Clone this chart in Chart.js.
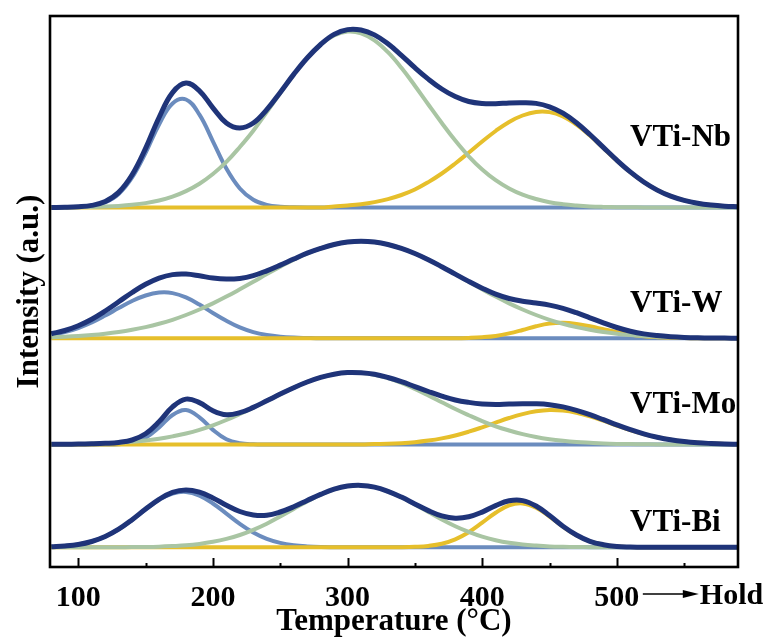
<!DOCTYPE html>
<html>
<head>
<meta charset="utf-8">
<script src="https://cdn.jsdelivr.net/npm/chart.js@4.4.1/dist/chart.umd.min.js"></script>
<style>
  html, body { margin: 0; padding: 0; background: #fff; }
  #wrap { width: 769px; height: 642px; }
</style>
</head>
<body>
<div id="wrap"><canvas id="tpd" width="769" height="642"></canvas></div>
<script>
// temperature grid (°C)
const temps = [80, 90, 100, 110, 120, 130, 140, 150, 160, 170, 180, 190, 200, 210, 220, 230, 240, 250, 260, 270,
  280, 290, 300, 310, 320, 330, 340, 350, 360, 370, 380, 390, 400, 410, 420, 430, 440, 450, 460, 470,
  480, 490, 500, 510, 520, 530, 540, 550, 560, 570, 580, 590];

const xTickValues = [100, 150, 200, 250, 300, 350, 400, 450, 500, 550];
const xTickLabels = ['100', '', '200', '', '300', '', '400', '', '500', ''];

const samples = ['VTi-Nb', 'VTi-W', 'VTi-Mo', 'VTi-Bi'];
// vertical shift of each trace (a.u.)
const panelOffsets = [359.5, 228.7, 122.5, 19.7];

// fitted peaks: low T (blue), mid T (green), high T (yellow)
const nbLow = [0, 0.1, 0.4, 1.6, 5.1, 13.5, 30, 54.7, 83, 104, 108, 92.9, 66.2, 38.9, 19, 7.7, 2.6, 0.7, 0.2, 0,
  0, 0, 0, 0, 0, 0, 0, 0, 0, 0, 0, 0, 0, 0, 0, 0, 0, 0, 0, 0,
  0, 0, 0, 0, 0, 0, 0, 0, 0, 0, 0, 0];
const nbMid = [0.1, 0.1, 0.3, 0.5, 0.9, 1.6, 2.7, 4.4, 7, 10.9, 16.4, 23.8, 33.5, 45.6, 60.5, 76.8, 95.3, 114.4, 132.9, 149.5,
  163, 172, 175.9, 174.2, 167.2, 155.3, 139.7, 121.8, 103, 84.5, 66.9, 51.2, 38, 27.3, 19, 12.8, 8.5, 5.3, 3.3, 2,
  1.1, 0.6, 0.3, 0.2, 0.1, 0, 0, 0, 0, 0, 0, 0];
const nbHigh = [0, 0, 0, 0, 0, 0, 0, 0, 0, 0, 0, 0, 0, 0, 0, 0, 0, 0, 0, 0,
  0, 1.1, 2, 3.3, 5.4, 8.4, 12.5, 18, 25.4, 34, 44, 54.8, 66, 76.5, 85.6, 92, 95.6, 95.4, 91, 82.8,
  71.9, 59.5, 47, 35.4, 25.4, 17.4, 11.3, 7.1, 4.2, 2.4, 1.3, 0.7];

const wLow = [3.5, 6.2, 10.3, 15.8, 22.7, 30.2, 37.3, 42.8, 45.7, 45.2, 40.9, 33.7, 25.3, 17.5, 10.9, 6.2, 3.3, 1.6, 0.7, 0.3,
  0, 0, 0, 0, 0, 0, 0, 0, 0, 0, 0, 0, 0, 0, 0, 0, 0, 0, 0, 0,
  0, 0, 0, 0, 0, 0, 0, 0, 0, 0, 0, 0];
const wMid = [1.1, 1.6, 2.3, 3.3, 4.6, 6.3, 8.5, 11.2, 14.5, 18.5, 23.3, 28.8, 34.9, 41.7, 49, 56.5, 64.2, 71.6, 78.6, 84.8,
  89.9, 93.8, 96.2, 97, 96.2, 93.8, 89.9, 84.8, 78.6, 71.6, 64.2, 56.5, 49, 41.7, 34.9, 28.8, 23.3, 18.5, 14.5, 11.2,
  8.5, 6.3, 4.6, 3.3, 2.3, 1.6, 1.1, 0.7, 0.5, 0.3, 0.2, 0.1];
const wHigh = [0, 0, 0, 0, 0, 0, 0, 0, 0, 0, 0, 0, 0, 0, 0, 0, 0, 0, 0, 0,
  0, 0, 0, 0, 0, 0, 0, 0, 0, 0, 0, 0.4, 1.1, 2.4, 4.9, 8.3, 12, 14.7, 15.5, 14.4,
  12, 9.1, 6.2, 3.8, 2.1, 1.1, 0.5, 0.2, 0, 0, 0, 0];

const moLow = [0, 0, 0, 0, 0, 0.3, 1.8, 6.7, 17, 29.5, 34.4, 27.2, 14.6, 5.2, 1.3, 0.2, 0, 0, 0, 0,
  0, 0, 0, 0, 0, 0, 0, 0, 0, 0, 0, 0, 0, 0, 0, 0, 0, 0, 0, 0,
  0, 0, 0, 0, 0, 0, 0, 0, 0, 0, 0, 0];
const moMid = [0.2, 0.3, 0.4, 0.7, 1.2, 1.8, 2.7, 4, 5.7, 8.1, 11, 14.7, 19.2, 24.5, 30.5, 36.9, 43.7, 50.4, 56.8, 62.5,
  67.1, 70.3, 71.9, 71.7, 69.8, 66.3, 61.5, 55.6, 49.1, 42.3, 35.5, 29.3, 23.4, 18.2, 14, 10.4, 7.5, 5.3, 3.7, 2.5,
  1.7, 1, 0.6, 0.4, 0.2, 0.1, 0, 0, 0, 0, 0, 0];
const moHigh = [0, 0, 0, 0, 0, 0, 0, 0, 0, 0, 0, 0, 0, 0, 0, 0, 0, 0, 0, 0,
  0, 0, 0, 0, 0.4, 0.7, 1.3, 2.3, 3.9, 6.1, 9, 12.8, 17.2, 21.9, 26.5, 30.4, 33.2, 34.5, 33.9, 31.7,
  28.2, 23.8, 19, 14.4, 10.4, 7.2, 4.7, 2.9, 1.7, 1, 0.5, 0.3];

const biLow = [0.5, 1.3, 2.8, 5.8, 10.8, 18, 27.4, 37.9, 47.4, 53.8, 55.4, 51.7, 43.8, 33.7, 23.5, 14.8, 8.4, 4.4, 2.1, 0.9,
  0.3, 0.1, 0, 0, 0, 0, 0, 0, 0, 0, 0, 0, 0, 0, 0, 0, 0, 0, 0, 0,
  0, 0, 0, 0, 0, 0, 0, 0, 0, 0, 0, 0];
const biMid = [0, 0, 0, 0, 0, 0.1, 0.2, 0.3, 0.6, 1.2, 2, 3.4, 5.5, 8.4, 12.3, 17.5, 23.6, 30.9, 38.4, 45.9,
  52.6, 58, 61.2, 61.9, 60.2, 56, 50.1, 42.9, 35.3, 27.8, 21.1, 15.4, 10.6, 7.1, 4.5, 2.8, 1.7, 0.9, 0.5, 0.3,
  0.1, 0, 0, 0, 0, 0, 0, 0, 0, 0, 0, 0];
const biHigh = [0, 0, 0, 0, 0, 0, 0, 0, 0, 0, 0, 0, 0, 0, 0, 0, 0, 0, 0, 0,
  0, 0, 0, 0, 0, 0, 0.1, 0.5, 1.4, 3.6, 8, 15.1, 24.6, 34.6, 42, 43.9, 39.6, 30.8, 20.6, 12,
  5.9, 2.6, 0.9, 0.3, 0, 0, 0, 0, 0, 0, 0, 0];

const peaks = [
  [nbLow, nbMid, nbHigh],
  [wLow, wMid, wHigh],
  [moLow, moMid, moHigh],
  [biLow, biMid, biHigh]
];

const NAVY = '#1f3479';
const BLUE = '#6b8cbe';
const GREEN = '#a9c5a3';
const YELLOW = '#e6bf2b';
const SERIF = '"Liberation Serif", "Times New Roman", serif';

Chart.defaults.font.family = SERIF;
Chart.defaults.color = '#000';

function trace(values, offset) {
  return values.map((v, i) => ({ x: temps[i], y: offset + v }));
}

function line(label, values, offset, color, width, order) {
  return {
    label: label,
    data: trace(values, offset),
    borderColor: color,
    borderWidth: width,
    pointRadius: 0,
    tension: 0.4,
    fill: false,
    order: order
  };
}

const datasets = [];
for (let p = 0; p < samples.length; p++) {
  const [low, mid, high] = peaks[p];
  const total = low.map((v, i) => v + mid[i] + high[i]);
  const off = panelOffsets[p];
  datasets.push(line(samples[p] + ' low', low, off, BLUE, 4, 3));
  datasets.push(line(samples[p] + ' high', high, off, YELLOW, 4, 2));
  datasets.push(line(samples[p] + ' mid', mid, off, GREEN, 4, 1));
  datasets.push(line(samples[p], total, off, NAVY, 5, 0));
}

// frame, inward ticks, sample names and the "Hold" arrow
const decor = {
  id: 'decor',
  afterDatasetsDraw(chart) {
    const ctx = chart.ctx;
    const area = chart.chartArea;
    const xs = chart.scales.x;
    const ys = chart.scales.y;
    ctx.save();

    ctx.fillStyle = '#000';
    ctx.font = 'bold 31px ' + SERIF;
    ctx.textAlign = 'left';
    ctx.textBaseline = 'middle';
    const lift = [70, 34, 40, 24];
    samples.forEach((s, i) => {
      ctx.fillText(s, 630, ys.getPixelForValue(panelOffsets[i] + lift[i]));
    });

    ctx.strokeStyle = '#000';
    ctx.lineWidth = 2;
    xTickValues.forEach((v) => {
      const px = Math.round(xs.getPixelForValue(v)) + 0.5;
      const len = v % 100 === 0 ? 9 : 4;
      ctx.beginPath();
      ctx.moveTo(px, area.bottom);
      ctx.lineTo(px, area.bottom - len);
      ctx.stroke();
    });

    ctx.lineWidth = 2.6;
    ctx.strokeRect(area.left, area.top, area.right - area.left, area.bottom - area.top);

    // arrow after the 500 label
    const x500 = xs.getPixelForValue(500);
    const ay = 594;
    ctx.lineWidth = 1.6;
    ctx.beginPath();
    ctx.moveTo(x500 + 26, ay);
    ctx.lineTo(x500 + 70, ay);
    ctx.stroke();
    ctx.beginPath();
    ctx.moveTo(x500 + 82, ay);
    ctx.lineTo(x500 + 66, ay - 4);
    ctx.lineTo(x500 + 66, ay + 4);
    ctx.closePath();
    ctx.fill();
    ctx.font = 'bold 30px ' + SERIF;
    ctx.fillText('Hold', x500 + 83, 596);

    ctx.restore();
  }
};

new Chart(document.getElementById('tpd'), {
  type: 'line',
  data: { datasets: datasets },
  options: {
    responsive: false,
    animation: false,
    events: [],
    layout: { padding: { top: 16, right: 31, left: 0, bottom: 0 } },
    plugins: {
      legend: { display: false },
      tooltip: { enabled: false }
    },
    scales: {
      x: {
        type: 'linear',
        min: 79,
        max: 590,
        afterFit: (scale) => { scale.height = 75; },
        afterBuildTicks: (scale) => { scale.ticks = xTickValues.map(v => ({ value: v })); },
        grid: { display: false, drawTicks: false },
        border: { display: false },
        ticks: {
          autoSkip: false,
          maxRotation: 0,
          padding: 13,
          font: { size: 30, weight: 'bold' },
          callback: (value, index) => xTickLabels[index]
        },
        title: {
          display: true,
          text: 'Temperature (°C)',
          font: { size: 31, weight: 'bold' },
          padding: { top: 0, bottom: 1 }
        }
      },
      y: {
        type: 'linear',
        min: 0,
        max: 551,
        afterFit: (scale) => { scale.width = 50; },
        grid: { display: false, drawTicks: false },
        border: { display: false },
        ticks: { display: false },
        title: {
          display: true,
          text: 'Intensity (a.u.)',
          font: { size: 31, weight: 'bold' },
          padding: { top: 11, bottom: 0 }
        }
      }
    }
  },
  plugins: [decor]
});
</script>
</body>
</html>
